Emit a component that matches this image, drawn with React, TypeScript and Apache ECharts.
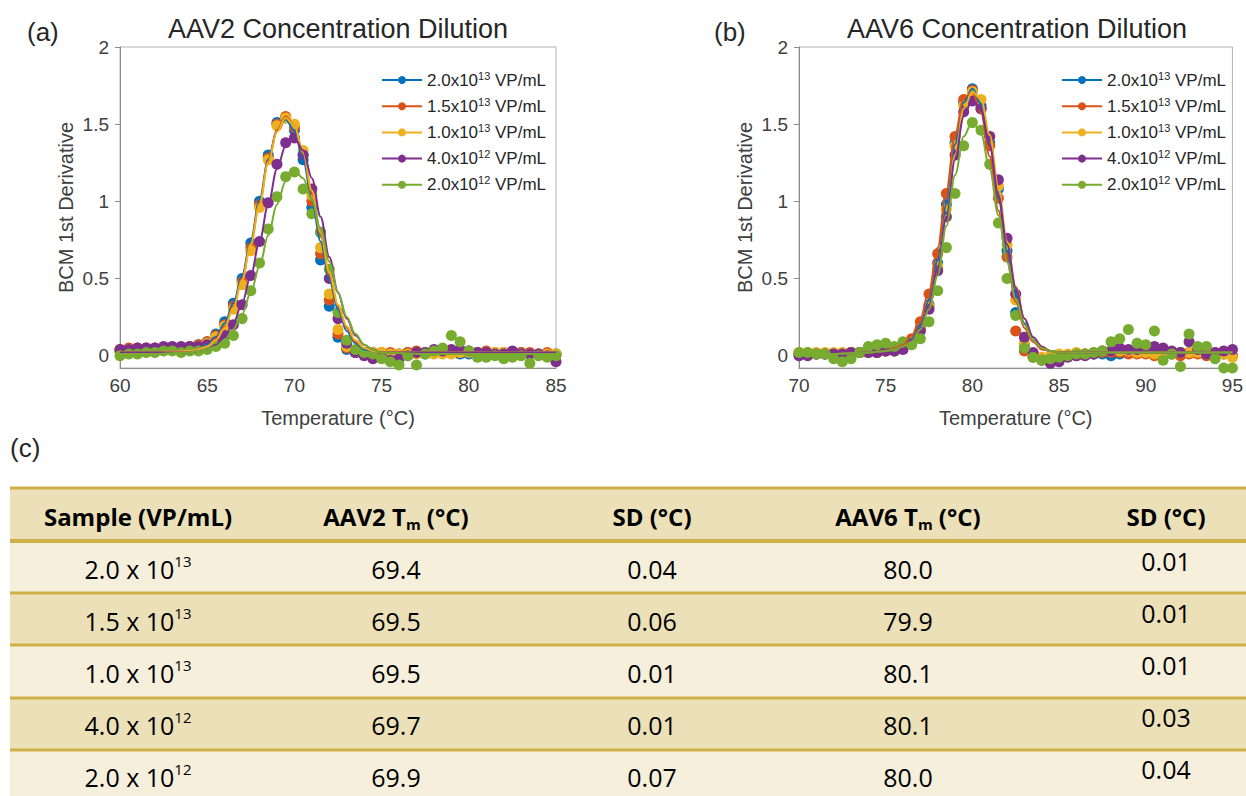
import React, { useEffect, useRef } from "react";
import * as echarts from "echarts";

// ---------- data ----------
const COLORS = ["#0072BD", "#D95319", "#EDB120", "#7E2F8E", "#77AC30"];
const MANTISSA = ["2.0", "1.5", "1.0", "4.0", "2.0"];
const EXPONENT = ["13", "13", "13", "12", "12"];
const SERIES_NAMES = MANTISSA.map((m, i) => `${m}x10^${EXPONENT[i]} VP/mL`);
const Y_TICKS = [0, 0.5, 1, 1.5, 2];

// AAV2 (a): measured points, every 0.5 °C from 60 to 85
const TEMPS_A = [
  60, 60.5, 61, 61.5, 62, 62.5, 63, 63.5, 64, 64.5,
  65, 65.5, 66, 66.5, 67, 67.5, 68, 68.5, 69, 69.5,
  70, 70.5, 71, 71.5, 72, 72.5, 73, 73.5, 74, 74.5,
  75, 75.5, 76, 76.5, 77, 77.5, 78, 78.5, 79, 79.5,
  80, 80.5, 81, 81.5, 82, 82.5, 83, 83.5, 84, 84.5,
  85,
];
const A_BLUE = [
  0.03, 0.04, 0.04, 0.04, 0.04, 0.04, 0.04, 0.05, 0.05, 0.07,
  0.09, 0.14, 0.22, 0.34, 0.5, 0.73, 1.0, 1.3, 1.51, 1.54,
  1.46, 1.27, 0.96, 0.62, 0.32, 0.12, 0.04, 0.02, 0.02, 0.02,
  0.01, 0.01, 0.01, 0.02, 0.02, 0.01, 0.02, 0.02, 0.02, 0.01,
  0.01, 0.02, 0.02, 0.01, 0.02, 0.02, 0.02, 0.01, 0.01, 0.01,
  0.01,
];
const A_ORANGE = [
  0.04, 0.05, 0.05, 0.05, 0.05, 0.05, 0.05, 0.05, 0.06, 0.07,
  0.09, 0.13, 0.2, 0.32, 0.48, 0.7, 0.98, 1.28, 1.5, 1.55,
  1.48, 1.3, 1.0, 0.66, 0.36, 0.14, 0.05, 0.02, 0.01, 0.02,
  0.02, 0.02, 0.01, 0.02, 0.03, 0.02, 0.02, 0.03, 0.02, 0.02,
  0.03, 0.02, 0.03, 0.02, 0.02, 0.01, 0.02, 0.02, 0.01, 0.02,
  0.01,
];
const A_YELLOW = [
  0.03, 0.04, 0.04, 0.04, 0.04, 0.04, 0.04, 0.04, 0.05, 0.06,
  0.08, 0.12, 0.19, 0.3, 0.46, 0.68, 0.96, 1.27, 1.49, 1.54,
  1.5, 1.33, 1.04, 0.7, 0.4, 0.17, 0.06, 0.03, 0.02, 0.02,
  0.02, 0.01, 0.01, 0.01, 0.01, 0.02, 0.01, 0.01, 0.01, 0.02,
  0.02, 0.02, 0.01, 0.02, 0.02, 0.02, 0.01, 0.01, 0.01, 0.01,
  0.01,
];
const A_PURPLE = [
  0.04, 0.04, 0.05, 0.05, 0.05, 0.06, 0.06, 0.06, 0.06, 0.06,
  0.07, 0.09, 0.13, 0.2, 0.33, 0.52, 0.74, 0.99, 1.24, 1.38,
  1.41, 1.3, 1.08, 0.8, 0.5, 0.24, 0.08, 0.02, 0.0, -0.02,
  -0.01, -0.03, -0.02, 0.0, 0.02, 0.02, 0.04, 0.03, 0.04, 0.04,
  0.03, 0.02, 0.02, 0.01, 0.01, 0.03, 0.01, 0.01, 0.01, 0.0,
  -0.04,
];
const A_GREEN = [
  0.0, 0.01, 0.01, 0.02, 0.02, 0.03, 0.03, 0.02, 0.03, 0.03,
  0.04, 0.06, 0.08, 0.13, 0.24, 0.42, 0.6, 0.82, 1.03, 1.16,
  1.19, 1.08, 0.92, 0.8, 0.56, 0.28, 0.1, 0.04, 0.02, 0.01,
  -0.02, -0.04, -0.06, 0.0, -0.06, 0.01, 0.03, 0.05, 0.13, 0.09,
  0.03, -0.01, -0.01, 0.0, -0.02, -0.01, 0.0, -0.05, 0.0, -0.01,
  0.0,
];

// AAV2 (a): fitted curves
const FIT_X_A = [
  60, 62, 64, 64.5, 65, 65.5, 66, 66.5, 67, 67.5, 68, 68.5, 69, 69.5,
  70, 70.5, 71, 71.5, 72, 72.5, 73, 73.5, 74, 74.5, 75, 77.5, 80, 82.5, 85,
];
const FIT_A_BLUE = [
  0.02, 0.02, 0.03, 0.04, 0.07, 0.12, 0.21, 0.34, 0.52, 0.75, 1.01, 1.27, 1.46, 1.53,
  1.46, 1.27, 1.01, 0.74, 0.49, 0.3, 0.16, 0.08, 0.04, 0.03, 0.02, 0.02, 0.02, 0.02, 0.02,
];
const FIT_A_ORANGE = [
  0.02, 0.02, 0.03, 0.04, 0.06, 0.11, 0.19, 0.32, 0.5, 0.73, 0.99, 1.26, 1.46, 1.55,
  1.49, 1.31, 1.05, 0.78, 0.52, 0.32, 0.18, 0.09, 0.05, 0.03, 0.02, 0.02, 0.02, 0.02, 0.02,
];
const FIT_A_YELLOW = [
  0.02, 0.02, 0.03, 0.04, 0.06, 0.1, 0.18, 0.31, 0.49, 0.72, 0.98, 1.25, 1.45, 1.54,
  1.49, 1.32, 1.07, 0.8, 0.54, 0.33, 0.19, 0.1, 0.05, 0.03, 0.02, 0.02, 0.02, 0.02, 0.02,
];
const FIT_A_PURPLE = [
  0.02, 0.02, 0.02, 0.03, 0.04, 0.07, 0.12, 0.21, 0.34, 0.52, 0.74, 0.98, 1.21, 1.36,
  1.41, 1.33, 1.15, 0.9, 0.64, 0.41, 0.24, 0.13, 0.07, 0.04, 0.02, 0.02, 0.02, 0.02, 0.02,
];
const FIT_A_GREEN = [
  0.01, 0.01, 0.02, 0.03, 0.04, 0.06, 0.1, 0.17, 0.27, 0.41, 0.58, 0.78, 0.98, 1.13,
  1.2, 1.15, 1.01, 0.82, 0.61, 0.41, 0.25, 0.14, 0.07, 0.04, 0.02, 0.01, 0.01, 0.01, 0.01,
];

// AAV6 (b): measured points, every 0.5 °C from 70 to 95
const TEMPS_B = [
  70, 70.5, 71, 71.5, 72, 72.5, 73, 73.5, 74, 74.5,
  75, 75.5, 76, 76.5, 77, 77.5, 78, 78.5, 79, 79.5,
  80, 80.5, 81, 81.5, 82, 82.5, 83, 83.5, 84, 84.5,
  85, 85.5, 86, 86.5, 87, 87.5, 88, 88.5, 89, 89.5,
  90, 90.5, 91, 91.5, 92, 92.5, 93, 93.5, 94, 94.5,
  95,
];
const B_BLUE = [
  0.01, 0.01, 0.01, 0.01, 0.01, 0.01, 0.02, 0.02, 0.02, 0.02,
  0.03, 0.03, 0.05, 0.09, 0.18, 0.33, 0.6, 0.98, 1.38, 1.64,
  1.73, 1.62, 1.38, 1.08, 0.68, 0.28, 0.07, 0.0, -0.02, -0.02,
  0.0, 0.0, 0.01, 0.01, 0.01, 0.01, 0.0, 0.01, 0.02, 0.02,
  0.02, 0.02, 0.02, 0.01, 0.02, 0.02, 0.02, 0.01, 0.01, 0.01,
  0.0,
];
const B_ORANGE = [
  0.01, 0.01, 0.01, 0.01, 0.01, 0.01, 0.02, 0.02, 0.02, 0.02,
  0.03, 0.04, 0.06, 0.11, 0.22, 0.4, 0.66, 1.05, 1.42, 1.66,
  1.72, 1.6, 1.36, 1.02, 0.64, 0.16, 0.03, -0.01, -0.02, -0.02,
  -0.01, 0.0, 0.0, 0.01, 0.01, 0.02, 0.02, 0.02, 0.01, 0.01,
  0.01, 0.0, 0.01, 0.01, 0.0, 0.01, 0.01, 0.0, 0.01, 0.01,
  0.0,
];
const B_YELLOW = [
  0.02, 0.02, 0.02, 0.02, 0.02, 0.02, 0.02, 0.02, 0.02, 0.03,
  0.03, 0.03, 0.05, 0.09, 0.17, 0.32, 0.58, 0.95, 1.36, 1.62,
  1.71, 1.66, 1.42, 1.1, 0.72, 0.36, 0.08, 0.01, -0.01, 0.0,
  0.01, 0.01, 0.02, 0.01, 0.02, 0.03, 0.03, 0.03, 0.03, 0.02,
  0.02, 0.01, 0.02, 0.01, 0.02, 0.02, 0.02, 0.02, 0.02, 0.01,
  -0.01,
];
const B_PURPLE = [
  0.0, 0.0, 0.01, 0.01, 0.01, 0.01, 0.02, 0.02, 0.02, 0.02,
  0.03, 0.03, 0.04, 0.08, 0.16, 0.3, 0.55, 0.9, 1.3, 1.58,
  1.65, 1.6, 1.42, 1.14, 0.76, 0.4, 0.12, 0.02, -0.03, -0.05,
  -0.04, -0.01, 0.0, 0.0, 0.01, 0.03, 0.03, 0.05, 0.04, 0.04,
  0.05, 0.06, 0.05, 0.03, 0.02, 0.09, 0.04, 0.01, 0.02, 0.03,
  0.04,
];
const B_GREEN = [
  0.02, 0.02, 0.01, 0.01, -0.02, -0.04, -0.02, 0.02, 0.06, 0.07,
  0.08, 0.06, 0.09, 0.07, 0.11, 0.22, 0.42, 0.7, 1.05, 1.36,
  1.51, 1.46, 1.24, 0.86, 0.5, 0.26, 0.05, -0.01, -0.03, -0.02,
  -0.01, 0.0, 0.01, 0.01, 0.02, 0.03, 0.09, 0.11, 0.17, 0.08,
  0.07, 0.16, -0.03, 0.01, -0.07, 0.14, 0.06, 0.06, -0.02, -0.08,
  -0.08,
];

// AAV6 (b): fitted curves
const FIT_X_B = [
  70, 72, 74, 75, 75.5, 76, 76.5, 77, 77.5, 78, 78.5, 79, 79.5, 80,
  80.5, 81, 81.5, 82, 82.5, 83, 83.5, 84, 84.5, 85, 87.5, 90, 92.5, 95,
];
const FIT_B_BLUE = [
  0.01, 0.01, 0.02, 0.03, 0.04, 0.06, 0.11, 0.2, 0.36, 0.62, 0.98, 1.37, 1.64, 1.73,
  1.63, 1.37, 1.02, 0.68, 0.4, 0.21, 0.1, 0.05, 0.03, 0.02, 0.02, 0.02, 0.02, 0.02,
];
const FIT_B_ORANGE = [
  0.01, 0.01, 0.02, 0.03, 0.05, 0.07, 0.13, 0.24, 0.42, 0.7, 1.07, 1.43, 1.67, 1.71,
  1.57, 1.29, 0.94, 0.61, 0.35, 0.18, 0.09, 0.04, 0.03, 0.02, 0.02, 0.02, 0.02, 0.02,
];
const FIT_B_YELLOW = [
  0.01, 0.01, 0.02, 0.03, 0.04, 0.06, 0.1, 0.18, 0.33, 0.57, 0.91, 1.3, 1.6, 1.71,
  1.66, 1.43, 1.09, 0.74, 0.45, 0.24, 0.12, 0.06, 0.03, 0.02, 0.02, 0.02, 0.02, 0.02,
];
const FIT_B_PURPLE = [
  0.01, 0.01, 0.02, 0.03, 0.04, 0.06, 0.1, 0.18, 0.33, 0.57, 0.9, 1.27, 1.55, 1.66,
  1.59, 1.36, 1.04, 0.72, 0.44, 0.24, 0.12, 0.06, 0.03, 0.02, 0.02, 0.02, 0.02, 0.02,
];
const FIT_B_GREEN = [
  0.01, 0.01, 0.02, 0.03, 0.04, 0.06, 0.09, 0.17, 0.3, 0.52, 0.84, 1.17, 1.42, 1.52,
  1.44, 1.21, 0.91, 0.61, 0.37, 0.2, 0.1, 0.05, 0.03, 0.02, 0.02, 0.02, 0.02, 0.02,
];

// (c) table
const TABLE_HEADERS = ["Sample (VP/mL)", "AAV2 T|m| (°C)", "SD (°C)", "AAV6 T|m| (°C)", "SD (°C)"];
const AAV2_TM = ["69.4", "69.5", "69.5", "69.7", "69.9"];
const AAV2_SD = ["0.04", "0.06", "0.01", "0.01", "0.07"];
const AAV6_TM = ["80.0", "79.9", "80.1", "80.1", "80.0"];
const AAV6_SD = ["0.01", "0.01", "0.01", "0.03", "0.04"];

// ---------- styling ----------
const FONT = '"Liberation Sans", Arial, Helvetica, sans-serif';
const TFONT = '"Open Sans", "Noto Sans", sans-serif';
const AXIS_GRAY = "#8c8c8c";
const LABEL = "#404040";
const TAN = "#EBE0B7";
const LIGHT = "#F5EFDB";
const GOLD = "#CFAF48";

const pairs = (xs: number[], ys: number[]) => xs.map((x, k) => [x, ys[k]]);

function buildOption() {
  const charts = [
    {
      grid: { left: 120, top: 47, width: 436, height: 321 },
      min: 60, max: 85,
      temps: TEMPS_A, data: [A_BLUE, A_ORANGE, A_YELLOW, A_PURPLE, A_GREEN],
      fitX: FIT_X_A, fits: [FIT_A_BLUE, FIT_A_ORANGE, FIT_A_YELLOW, FIT_A_PURPLE, FIT_A_GREEN],
      legendLeft: 376,
    },
    {
      grid: { left: 799, top: 47, width: 437, height: 321 },
      min: 70, max: 95,
      temps: TEMPS_B, data: [B_BLUE, B_ORANGE, B_YELLOW, B_PURPLE, B_GREEN],
      fitX: FIT_X_B, fits: [FIT_B_BLUE, FIT_B_ORANGE, FIT_B_YELLOW, FIT_B_PURPLE, FIT_B_GREEN],
      legendLeft: 1056,
    },
  ];

  const series: any[] = [];
  charts.forEach((c, ci) => {
    for (let i = 0; i < 5; i++) {
      series.push({
        type: "scatter",
        name: `points-${ci}-${i}`,
        xAxisIndex: ci,
        yAxisIndex: ci,
        data: pairs(c.temps, c.data[i]),
        symbol: "circle",
        symbolSize: 11,
        itemStyle: { color: COLORS[i], opacity: 1 },
        clip: false,
        silent: true,
        z: 2,
      });
      series.push({
        type: "line",
        name: SERIES_NAMES[i],
        xAxisIndex: ci,
        yAxisIndex: ci,
        data: pairs(c.fitX, c.fits[i]),
        smooth: 0.35,
        smoothMonotone: "x",
        symbol: "circle",
        showSymbol: false,
        lineStyle: { color: COLORS[i], width: 2 },
        itemStyle: { color: COLORS[i] },
        silent: true,
        z: 3,
      });
    }
  });

  const legendFormatter = (name: string) => {
    const i = SERIES_NAMES.indexOf(name);
    return `{a|${MANTISSA[i]}x10}{sup|${EXPONENT[i]}}{a| VP/mL}`;
  };

  const graphic: any[] = [];
  const txt = (text: string, x: number, y: number, size: number, align = "left") => ({
    type: "text",
    x,
    y,
    style: { text, fontSize: size, fontFamily: FONT, fill: "#262626", align, verticalAlign: "middle" },
  });
  graphic.push(txt("(a)", 27, 32, 26));
  graphic.push(txt("AAV2 Concentration Dilution", 338, 29, 27, "center"));
  graphic.push(txt("(b)", 714, 32, 26));
  graphic.push(txt("AAV6 Concentration Dilution", 1017, 29, 27, "center"));
  graphic.push(txt("(c)", 10, 448, 26));

  // table
  const TL = 10, TR = 1246;
  const bands = [488, 541, 593, 645, 698, 750, 796];
  const bandFill = [TAN, LIGHT, TAN, LIGHT, TAN, LIGHT];
  for (let r = 0; r < 6; r++) {
    graphic.push({
      type: "rect",
      shape: { x: TL, y: bands[r], width: TR - TL, height: bands[r + 1] - bands[r] },
      style: { fill: bandFill[r] },
      silent: true,
    });
  }
  for (let r = 0; r < 6; r++) {
    const h = r === 1 ? 4 : 3;
    graphic.push({
      type: "rect",
      shape: { x: TL, y: bands[r] - h / 2, width: TR - TL, height: h },
      style: { fill: GOLD },
      silent: true,
    });
  }
  const colX = [138, 396, 652, 908, 1166];
  const rich = {
    h: { fontSize: 24, fontWeight: "bold", fontFamily: TFONT, fill: "#000", lineHeight: 30 },
    hs: { fontSize: 15, fontWeight: "bold", fontFamily: TFONT, fill: "#000", lineHeight: 15, verticalAlign: "bottom" },
    t: { fontSize: 25, fontFamily: TFONT, fill: "#000", lineHeight: 32 },
    sup: { fontSize: 15, fontFamily: TFONT, fill: "#000", lineHeight: 15, verticalAlign: "top" },
  };
  TABLE_HEADERS.forEach((hd, k) => {
    const parts = hd.split("|");
    const text = parts.length === 3 ? `{h|${parts[0]}}{hs|${parts[1]}}{h|${parts[2]}}` : `{h|${hd}}`;
    graphic.push({
      type: "text",
      x: colX[k],
      y: 516,
      style: { text, rich, align: "center", verticalAlign: "middle" },
      silent: true,
    });
  });
  const rowY = [569, 621, 673, 725, 777];
  for (let r = 0; r < 5; r++) {
    const cells = [
      `{t|${MANTISSA[r]} x 10}{sup|${EXPONENT[r]}}`,
      `{t|${AAV2_TM[r]}}`,
      `{t|${AAV2_SD[r]}}`,
      `{t|${AAV6_TM[r]}}`,
      `{t|${AAV6_SD[r]}}`,
    ];
    cells.forEach((text, k) => {
      graphic.push({
        type: "text",
        x: colX[k],
        y: k === 4 ? rowY[r] - 8 : rowY[r],
        style: { text, rich, align: "center", verticalAlign: "middle" },
        silent: true,
      });
    });
  }

  return {
    animation: false,
    backgroundColor: "#ffffff",
    grid: charts.map((c) => ({
      ...c.grid,
      show: true,
      borderColor: "#b3b3b3",
      borderWidth: 1,
      backgroundColor: "transparent",
      containLabel: false,
    })),
    xAxis: charts.map((c, ci) => ({
      type: "value",
      gridIndex: ci,
      min: c.min,
      max: c.max,
      interval: 5,
      axisLine: { show: true, onZero: false, lineStyle: { color: AXIS_GRAY, width: 1 } },
      axisTick: { show: false },
      axisLabel: { color: LABEL, fontSize: 19, fontFamily: FONT, margin: 8 },
      splitLine: { show: false },
      name: "Temperature (°C)",
      nameLocation: "middle",
      nameGap: 40,
      nameTextStyle: { color: LABEL, fontSize: 20, fontFamily: FONT },
    })),
    yAxis: charts.map((c, ci) => ({
      type: "value",
      gridIndex: ci,
      min: -0.08,
      max: 2,
      axisLine: { show: true, onZero: false, lineStyle: { color: AXIS_GRAY, width: 1 } },
      axisTick: { show: true, length: 5, lineStyle: { color: AXIS_GRAY }, customValues: Y_TICKS },
      axisLabel: {
        color: LABEL,
        fontSize: 19,
        fontFamily: FONT,
        margin: 11,
        customValues: Y_TICKS,
        formatter: (v: number) => String(v),
      },
      splitLine: { show: false },
      name: "BCM 1st Derivative",
      nameLocation: "middle",
      nameRotate: 90,
      nameGap: 44,
      nameTextStyle: { color: LABEL, fontSize: 20, fontFamily: FONT },
    })),
    legend: charts.map((c) => ({
      data: SERIES_NAMES,
      orient: "vertical",
      left: c.legendLeft,
      top: 65,
      itemWidth: 40,
      itemHeight: 10,
      itemGap: 7.7,
      selectedMode: false,
      formatter: legendFormatter,
      textStyle: {
        fontFamily: FONT,
        rich: {
          a: { fontSize: 17, lineHeight: 20, color: "#262626", fontFamily: FONT },
          sup: { fontSize: 11, lineHeight: 11, color: "#262626", fontFamily: FONT, verticalAlign: "top" },
        },
      },
    })),
    series,
    graphic,
  };
}

export default function App() {
  const ref = useRef<HTMLDivElement>(null);
  useEffect(() => {
    if (!ref.current) return;
    const chart = echarts.init(ref.current, null, { renderer: "svg" });
    chart.setOption(buildOption() as any);
    return () => chart.dispose();
  }, []);
  return (
    <div
      ref={ref}
      style={{ position: "absolute", left: 0, top: 0, width: 1246, height: 796, background: "#fff" }}
    />
  );
}
